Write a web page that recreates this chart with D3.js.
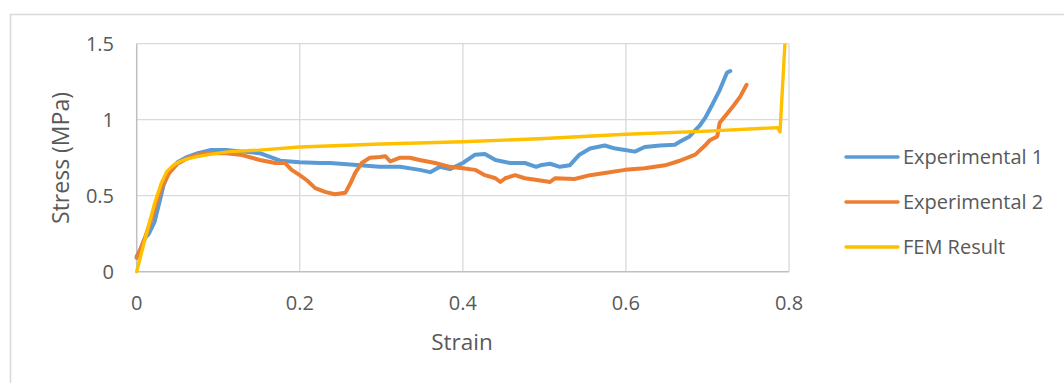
<!DOCTYPE html>
<html><head><meta charset="utf-8">
<script src="https://cdn.jsdelivr.net/npm/d3@7"></script>
<style>body{margin:0;background:#fff;} svg{display:block;font-family:"Open Sans",sans-serif;}</style>
</head><body>
<svg id="chart" width="1064" height="383"></svg>
<script>
const seriesNames = ["Experimental 1", "Experimental 2", "FEM Result"];
const seriesColors = ["#5B9BD5", "#ED7D31", "#FFC000"];
const xTicks = [0, 0.2, 0.4, 0.6, 0.8];
const yTicks = [0, 0.5, 1, 1.5];
const xTickLabels = ["0", "0.2", "0.4", "0.6", "0.8"];
const yTickLabels = ["0", "0.5", "1", "1.5"];

const exp1Strain = [0,0.005,0.01,0.015,0.022,0.028,0.033,0.04,0.05,0.06,0.075,0.09,0.11,0.13,0.151,0.176,0.2,0.225,0.237,0.274,0.298,0.311,0.323,0.347,0.36,0.372,0.384,0.4,0.415,0.427,0.44,0.458,0.476,0.49,0.495,0.507,0.519,0.531,0.543,0.556,0.574,0.587,0.599,0.611,0.623,0.642,0.66,0.666,0.678,0.691,0.697,0.706,0.715,0.724,0.728];
const exp1Stress = [0.10,0.15,0.22,0.25,0.33,0.46,0.57,0.66,0.72,0.75,0.78,0.80,0.80,0.79,0.78,0.73,0.72,0.715,0.715,0.70,0.69,0.69,0.69,0.67,0.655,0.69,0.675,0.715,0.77,0.775,0.735,0.715,0.715,0.69,0.70,0.71,0.69,0.70,0.77,0.81,0.83,0.81,0.80,0.79,0.82,0.83,0.835,0.855,0.89,0.965,1.01,1.10,1.195,1.31,1.32];

const exp2Strain = [0,0.01,0.02,0.03,0.04,0.05,0.06,0.075,0.09,0.11,0.127,0.151,0.17,0.182,0.19,0.2,0.209,0.219,0.231,0.243,0.256,0.262,0.268,0.276,0.286,0.298,0.305,0.311,0.323,0.335,0.347,0.366,0.384,0.4,0.415,0.427,0.44,0.446,0.452,0.464,0.476,0.495,0.507,0.513,0.537,0.556,0.574,0.599,0.623,0.648,0.666,0.685,0.697,0.703,0.712,0.715,0.721,0.731,0.74,0.746,0.748];
const exp2Stress = [0.09,0.22,0.38,0.55,0.65,0.71,0.74,0.77,0.78,0.78,0.77,0.735,0.715,0.715,0.67,0.635,0.60,0.55,0.525,0.51,0.52,0.58,0.65,0.715,0.75,0.755,0.76,0.725,0.75,0.75,0.735,0.715,0.69,0.68,0.67,0.635,0.615,0.59,0.615,0.635,0.615,0.60,0.59,0.615,0.61,0.635,0.65,0.67,0.68,0.70,0.73,0.77,0.83,0.865,0.89,0.98,1.02,1.085,1.15,1.21,1.23];

const femStrain = [0,0.01,0.022,0.03,0.037,0.045,0.053,0.062,0.074,0.09,0.114,0.15,0.2,0.3,0.4,0.5,0.6,0.7,0.786,0.789,0.795];
const femStress = [0,0.21,0.45,0.58,0.66,0.70,0.725,0.742,0.757,0.772,0.79,0.80,0.82,0.84,0.855,0.876,0.904,0.925,0.948,0.92,1.5];

const svg = d3.select("#chart");
const L = 136.7, R = 789, T = 43.7, B = 271.7;
const x = d3.scaleLinear().domain([0, 0.8]).range([L, R]);
const y = d3.scaleLinear().domain([0, 1.5]).range([B, T]);

// outer chart border
svg.append("rect").attr("x",10.5).attr("y",14.5).attr("width",1100).attr("height",400)
  .attr("fill","none").attr("stroke","#d9d9d9").attr("stroke-width",1.5);

// gridlines
svg.append("g").selectAll("line").data(yTicks.filter(d=>d>0)).join("line")
  .attr("x1",L).attr("x2",R).attr("y1",d=>y(d)).attr("y2",d=>y(d))
  .attr("stroke","#d9d9d9").attr("stroke-width",1.3);
svg.append("g").selectAll("line").data(xTicks.filter(d=>d>0)).join("line")
  .attr("y1",T).attr("y2",B).attr("x1",d=>x(d)).attr("x2",d=>x(d))
  .attr("stroke","#d9d9d9").attr("stroke-width",1.3);
// axis lines
svg.append("line").attr("x1",L).attr("x2",R).attr("y1",B).attr("y2",B).attr("stroke","#bfbfbf").attr("stroke-width",1.5);
svg.append("line").attr("x1",L).attr("x2",L).attr("y1",T).attr("y2",B).attr("stroke","#bfbfbf").attr("stroke-width",1.5);

// tick labels
svg.append("g").selectAll("text").data(yTicks).join("text")
  .attr("x",114).attr("y",d=>y(d)).attr("dy","0.35em").attr("text-anchor","end")
  .attr("font-size",20).attr("fill","#595959").text((d,i)=>yTickLabels[i]);
svg.append("g").selectAll("text").data(xTicks).join("text")
  .attr("x",d=>x(d)).attr("y",303).attr("dy","0.35em").attr("text-anchor","middle")
  .attr("font-size",20).attr("fill","#595959").text((d,i)=>xTickLabels[i]);

// axis titles
svg.append("text").attr("x",462).attr("y",342).attr("dy","0.35em").attr("text-anchor","middle")
  .attr("font-size",22.5).attr("fill","#595959").text("Strain");
svg.append("text").attr("transform","translate(61,158) rotate(-90)").attr("dy","0.35em")
  .attr("text-anchor","middle").attr("font-size",23).attr("fill","#595959").text("Stress (MPa)");

// lines
svg.append("defs").append("clipPath").attr("id","clip").append("rect")
  .attr("x",L-5).attr("y",T).attr("width",R-L+10).attr("height",B-T+5);
const line = d3.line().x(d=>x(d[0])).y(d=>y(d[1]));
const data = [
  d3.zip(exp1Strain, exp1Stress),
  d3.zip(exp2Strain, exp2Stress),
  d3.zip(femStrain, femStress)
];
const g = svg.append("g").attr("clip-path","url(#clip)");
data.forEach((pts,i)=>{
  g.append("path").datum(pts).attr("d",line).attr("fill","none")
    .attr("stroke",seriesColors[i]).attr("stroke-width",i<2?4:3.4)
    .attr("stroke-linejoin","round").attr("stroke-linecap","round");
});

// legend
const legY = [157, 202, 247];
const lg = svg.append("g");
seriesNames.forEach((n,i)=>{
  lg.append("line").attr("x1",846).attr("x2",898).attr("y1",legY[i]).attr("y2",legY[i])
    .attr("stroke",seriesColors[i]).attr("stroke-width",3.4).attr("stroke-linecap","round");
  lg.append("text").attr("x",903).attr("y",legY[i]).attr("dy","0.35em")
    .attr("font-size",20).attr("fill","#595959").text(n);
});
</script>
</body></html>
